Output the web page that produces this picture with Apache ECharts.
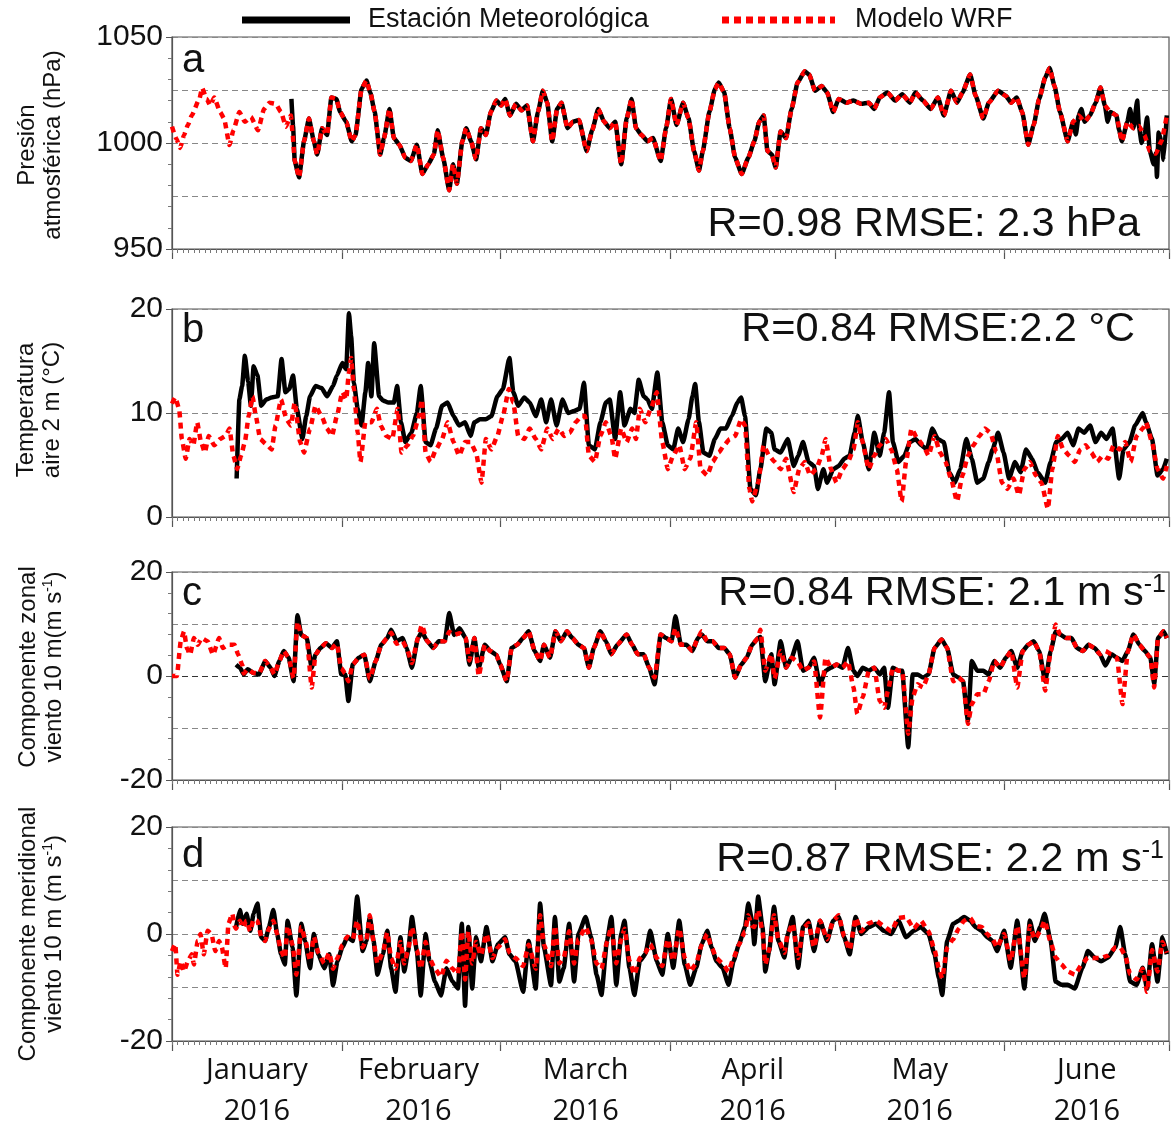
<!DOCTYPE html>
<html><head><meta charset="utf-8">
<script src="https://cdn.jsdelivr.net/npm/echarts@6/dist/echarts.min.js"></script>
<style>html,body{margin:0;padding:0;background:#fff}#c{width:1171px;height:1125px}</style>
</head><body><div id="c"></div>
<script>
// ---------- axis data ----------
const monthTicks = [0, 31, 60, 91, 121, 152, 182];           // day-of-year of month starts (2016)
const monthLabelDays = [15.5, 45, 75.5, 106, 136.5, 167];     // mid-month label positions
const monthLabels = ['January\n2016', 'February\n2016', 'March\n2016', 'April\n2016', 'May\n2016', 'June\n2016'];

// ---------- panel a: pressure (hPa), [day, value] ----------
const pressModelEarly = [[0,1007.7],[0.8,1002],[1.5,997.7],[2.2,1003.8],[2.9,1008.5],[3.6,1013],[5,1020.8],[5.5,1026],[6.3,1020.8],[7,1017.7],[7.7,1021.5],[8.8,1014.6],[9.5,1011.5],[10.5,999],[11.2,1006],[12.3,1014.6],[13.3,1010],[14.4,1012.3],[15.7,1006],[16.8,1016],[17.8,1019],[18.9,1018.5],[19.9,1014.6],[20.8,1007.7],[21.7,1013],[22.0,1005]];
const pressObsStart = [[21.8,1020.8],[22.1,1008]];
const pressCommon = [[22.4,991.5],[23.2,983.8],[24.1,1000.8],[25,1011.5],[25.9,1000.8],[26.5,994.6],[27.4,1007],[28.3,1003.8],[29.1,1021.5],[30,1020.8],[30.7,1014.6],[31.8,1010],[32.8,1000.8],[33.5,1003.8],[34.6,1025.4],[35.5,1029.5],[36.2,1023.8],[37,1014.6],[38,994.6],[38.7,1002.3],[39.7,1016],[40.5,1002.3],[41.5,999.2],[42.6,993],[43.6,991.5],[44.7,999.2],[45.7,985.4],[46.8,990],[47.8,994.6],[48.5,1006],[49.5,993],[50.6,977.7],[51.3,990],[52,980.8],[53,1000.8],[53.7,1007],[54.6,1000.8],[55.5,992.3],[56.4,1007],[57.3,1003.8],[58.2,1014.6],[59.2,1020],[60.1,1017.7],[60.8,1020.8],[61.7,1013],[62.8,1018.5],[63.8,1015.4],[64.8,1017.7],[65.9,1000.8],[66.8,1014.6],[67.7,1024.6],[68.5,1019],[69.4,1000.8],[70.3,1016],[71.1,1019],[72.2,1007],[73.2,1010],[74.3,1010.8],[75.7,996.2],[76.7,1006],[77.8,1016],[78.9,1010],[79.9,1007],[80.9,1010],[82,990],[83,1011.5],[83.9,1020.8],[84.7,1007],[85.7,1003.8],[86.8,1000.8],[87.8,1002.3],[89.2,991.5],[90.2,1007],[91.1,1020.8],[92.1,1008.5],[93.3,1019],[94.3,1011.5],[95.3,996.2],[96.2,987],[96.9,996.2],[98.1,1014.6],[99.1,1025.4],[99.8,1028.5],[100.8,1023.8],[101.8,1007],[102.8,993],[104,985.4],[105.2,993],[106.3,1000.8],[107.2,1010],[108,1013],[108.7,996.2],[109.5,994.6],[110.2,988.5],[111.1,1005.4],[112.1,1002.3],[113.1,1016],[114.2,1028.5],[115.5,1033.8],[116.3,1032.3],[117.4,1024.6],[118.6,1026.9],[119.6,1023.8],[120.7,1014.6],[121.7,1020.8],[123.1,1019],[124.4,1020],[125.8,1018.5],[127.2,1019],[128.2,1016],[129.2,1021.5],[130.6,1023.8],[132,1020],[133.3,1023],[134.7,1019],[135.7,1023.8],[137.1,1020],[138.5,1016],[139.8,1021.5],[140.9,1013],[142.2,1024.6],[143.3,1019],[144.3,1023.8],[145.7,1032.3],[146.7,1022.3],[148.1,1011.5],[149.1,1019],[150.8,1024.6],[152.2,1022.3],[153.2,1019],[154.2,1021.5],[155.2,1014.6],[156.3,999.2],[157.3,1008.5],[158.3,1020.8],[159.4,1030.8],[160.2,1035.4],[161.1,1026.9],[162.1,1014.6],[163.5,1000.8],[164.5,1010],[165.5,1013],[166.6,1010],[167.6,1013],[168.6,1019],[169.5,1026.2],[170.3,1017.7],[171.3,1014.6],[172.4,1013],[173.4,1000.8],[174.4,1010],[175.5,1007],[176.5,1008],[177.5,1003.8],[178.5,996.2],[179.6,995],[180.6,1000.8],[181.6,1013]];
const pressObsNoise = [[165,1004],[166,1016],[170.8,1010],[172.9,1006],[174.9,1016],[176.2,1020],[177,1000],[178,1012],[179.2,990],[179.8,984],[180.1,1005],[181,992]];

// ---------- panel b: temperature (°C) ----------
const tempModel = [[0,10.9],[0.6,11.5],[1.3,10.4],[1.8,7.5],[2.5,5.6],[3.2,7.5],[3.9,6.9],[4.6,9.1],[5.3,7.2],[6,6.2],[6.7,7.8],[7.7,6.9],[8.8,7.5],[9.8,7.8],[10.5,8.5],[11.2,5.9],[11.9,4.6],[12.6,5.9],[13.3,7.2],[14,9.7],[14.7,11.6],[15.3,9.7],[16.1,7.5],[17.2,7],[18.2,6.5],[18.9,8.8],[19.9,11.3],[20.9,9.4],[21.7,8.8],[22.4,11],[23.4,7.2],[24.1,6.2],[25.2,8.5],[26.2,10.7],[27.3,9.7],[28.3,8.5],[29.2,7.8],[30.1,9.7],[31.1,12],[31.8,11.3],[32.3,13.9],[32.7,15.3],[33.2,12.3],[33.9,8.1],[34.4,5.3],[35.3,9.1],[36.4,9.1],[37.4,10.4],[38.1,8.8],[39.1,7.8],[40.2,7.5],[41.2,10.4],[41.9,6.2],[43,6.9],[44,7.8],[45.1,9.7],[45.6,11.3],[46.3,6.2],[47.2,5.3],[48.2,6.5],[49.3,7.5],[50.3,9.1],[51.4,7.2],[52.4,5.9],[53.5,7.2],[54.5,7.2],[55.5,6.2],[56.5,3.3],[57.3,7.5],[58.3,6.5],[59.4,7.8],[60.4,9.7],[61.5,12.3],[62.3,11],[63.2,7.8],[64.3,7.5],[65.3,8.5],[66.4,7.5],[67.4,6.5],[68.5,8.5],[69.5,7.5],[70.6,8.5],[71.6,7.8],[72.6,8.1],[73.7,9.1],[74.7,9.7],[75.4,9.7],[76.1,5.9],[77.2,5.3],[78.2,7.8],[79.2,9.1],[80.2,7.8],[80.9,5.6],[82,8.5],[83,7.2],[84,8.5],[84.7,7.5],[85.4,10.4],[86.4,9.1],[87.4,10.4],[88.5,12],[89.5,7.2],[90.5,4.6],[91.5,5.9],[92.6,6.9],[93.6,4.6],[94.6,5.6],[95.7,9.1],[96.5,4.6],[97.7,4],[98.7,5.3],[99.8,6.2],[100.8,6.9],[101.8,7.5],[102.8,7.8],[103.9,9.4],[104.6,8.8],[105.4,2.7],[105.9,1.5],[107,3.3],[108,6.9],[109,5.9],[110,5.3],[111.1,4.6],[112.1,5.6],[113.5,2.4],[114.5,4.6],[115.5,5.3],[116.5,4],[117.6,4.6],[118.6,5.9],[119.3,7.5],[120.3,4.6],[121.3,3.3],[122.4,4.6],[123.4,5.3],[124.4,6.5],[125.2,9.1],[125.9,7.5],[127.2,4.6],[128.2,5.9],[129.2,6.9],[130.3,7.5],[131.3,6.5],[132.3,4.6],[133.2,1.5],[134,5.3],[135,8.5],[136.1,7.5],[137.1,6.9],[138.1,5.9],[139.2,7.8],[140.2,6.2],[141.2,5.3],[142.2,3.7],[143.3,1.5],[144.3,4],[145.3,5.9],[146.3,6.9],[147.4,7.8],[148.4,8.5],[149.4,8.1],[150.5,6.2],[151.5,3.3],[152.5,2.7],[153.6,3.7],[154.6,2.1],[155.6,4.6],[156.6,5.3],[157.7,4],[158.7,3.3],[159.9,0.8],[160.7,4.6],[161.7,7.8],[162.7,6.5],[163.8,5.9],[164.8,5.3],[165.8,6.5],[166.8,6.9],[167.8,6.2],[168.9,5.3],[169.9,5.9],[170.9,5.6],[171.9,6.9],[173,6.5],[174,7.2],[175,5.3],[176.1,7.8],[177.2,8.5],[177.8,9.1],[178.9,7.2],[179.9,4.6],[180.9,3.7],[181.6,4.9]];
const tempObs = [[11.8,3.7],[12.3,11.3],[12.8,12.6],[13.3,15.5],[13.9,13],[14.4,10.7],[14.9,14.5],[15.6,13.6],[16.3,10.7],[17.2,11.3],[18.2,11.5],[19.3,11.6],[20,15.2],[20.7,12],[21.4,12.3],[22.1,13.6],[22.8,10.4],[23.8,7.5],[24.5,9.7],[25.2,11.6],[26.2,12.6],[27.3,12.4],[28.3,11.6],[29.4,12.6],[30.1,13.6],[31.1,14.8],[31.8,14.2],[32.3,19.6],[32.7,17.4],[33.2,12.9],[33.9,10.4],[34.6,8.8],[35.3,12],[35.8,14.8],[36.4,11.6],[36.9,16.7],[37.8,11.6],[38.5,11.2],[39.5,11],[40.5,11],[41.1,12.6],[41.8,9.1],[42.6,7.2],[43.7,8.1],[44.7,10],[45.4,12.6],[46.3,7.2],[47.2,6.9],[48.2,8.5],[49.3,10.7],[50.3,11],[51.4,9.7],[52.4,8.8],[53.5,9.1],[54.5,7.8],[55.2,9.1],[56.2,9.4],[57.3,9.4],[58.3,9.7],[59.4,11.6],[60.4,12.3],[61.6,15.3],[62.3,12],[63.2,10.7],[64.3,11.5],[65.3,11],[66.4,9.7],[67.4,11.3],[68.3,9.1],[69.2,11.3],[70.2,8.8],[71.3,11.3],[72.3,10],[73.4,10.2],[74.4,10.4],[75.2,12.9],[76.1,6.9],[77.2,6.5],[78.2,9.1],[79.2,11],[79.9,11.3],[80.9,7.5],[81.8,12],[82.6,8.8],[83.7,10.4],[84.4,10],[85.2,13.2],[86.1,11.6],[86.8,11.3],[87.6,10.4],[88.6,13.9],[89.5,9.1],[90.5,6.9],[91.5,6.5],[92.4,8.5],[93.3,7.2],[94.3,9.4],[95,11.6],[95.5,12.8],[96.2,9.1],[97,6.2],[98.1,5.9],[99.1,7.5],[100.1,8.5],[101.1,8.5],[102.2,9.7],[103.2,11],[103.9,11.5],[104.6,9.7],[105.6,2.7],[106.6,2.1],[107.4,4.6],[108.5,8.5],[109.4,8.1],[110,6.5],[111.1,6.2],[112.4,7.5],[113.5,4.9],[114.3,5.9],[115.2,7.2],[116.2,5.3],[117.2,4.9],[117.9,2.7],[118.9,4.6],[119.6,3.3],[120.7,4.6],[121.7,4.9],[122.7,5.6],[123.7,5.9],[124.6,8.1],[125.2,9.7],[126.1,7.2],[127.2,4.6],[128.2,8.1],[129.2,5.9],[130,8.1],[130.9,12],[131.6,7.2],[132.6,5.3],[133.7,5.9],[134.7,7.2],[135.7,7.5],[136.8,6.9],[137.8,6.5],[138.8,8.5],[139.8,7.5],[140.9,7.2],[141.9,4.3],[142.9,3.3],[143.9,4.6],[145,7.5],[146,5.6],[147,3.3],[148.1,3.7],[149.1,5.3],[149.8,6.5],[150.8,8.1],[151.8,6.2],[152.8,3.7],[153.9,5.3],[154.9,4.3],[155.9,6.5],[157,5.6],[158,4.3],[159.4,3.3],[160.4,5.3],[161.4,7.2],[162.4,7.5],[163.5,8.1],[164.5,6.9],[165.5,8.5],[166.5,8.1],[167.6,8.8],[168.6,7.2],[169.6,8.1],[170.6,7.5],[171.7,8.5],[172.9,3.7],[173.7,6.5],[174.8,7.2],[175.8,8.8],[177.2,10],[177.8,9.1],[178.9,7.5],[179.9,4],[180.9,4.6],[181.6,5.6]];

// ---------- panel c: zonal wind (m/s) ----------
const windUModel = [[0,0],[0.9,0],[1.6,6.7],[2.2,8.6],[2.7,5.4],[3.3,4.1],[4,7.3],[4.7,6],[5.4,7.3],[6.5,6.7],[7.5,4.1],[8.6,7.3],[9.3,5.4],[10.3,6],[11.4,6],[12.1,4.1],[12.8,2.2],[13.1,0.5],[13.8,1.3],[14.9,0.6],[15.9,0.5],[17,2.9],[18,1.6],[18.7,0.3],[19.6,2.9],[20.4,4.8],[21.3,3.5],[22.2,-0.4],[22.9,10.4],[23.6,7.9],[24.6,7.3],[25.5,-2.2],[26.2,4.1],[27.1,5.4],[28.1,6.3],[29.2,5.4],[30.1,6.2],[30.9,1.5],[31.6,0.5],[32.2,-1],[33,2.2],[34.1,3.5],[35.1,4.1],[36.1,-0.5],[37.2,2.9],[38.2,6],[39.3,7.3],[40,8.3],[41,6.2],[42.1,6.7],[42.8,5.4],[43.8,2.5],[44.9,7.3],[45.6,9.8],[46.6,6.7],[47.7,5.4],[48.7,6.7],[49.8,6.7],[50.6,8.5],[51.5,7.9],[52.5,8.2],[53.6,7.3],[54.3,3],[55.2,7.3],[56,0],[57.1,6],[58.1,4.8],[59.2,4.1],[59.9,2.2],[61.1,-1],[62,5.4],[63,6],[64.1,7.3],[65.1,8.6],[66.2,4.8],[67.2,2.9],[67.9,6],[69,3.5],[70,8.6],[71,6.7],[72.1,8.6],[73.1,7.3],[74.2,6],[75.2,5.4],[76.1,1.6],[77,5.4],[78.2,8.6],[79.2,6.7],[80.2,4.2],[81.3,6],[83,8],[84,6],[85,4.2],[86.1,4.2],[87.1,1.6],[88.1,-0.3],[89.2,8],[90.2,7.3],[91.2,6.7],[91.9,9.2],[92.9,6],[93.9,6],[95,4.8],[96,7.3],[96.7,8.6],[97.7,6.7],[98.7,6.7],[99.8,5.4],[100.8,5.4],[101.8,4.2],[102.8,-0.3],[103.9,2.2],[104.9,3.5],[105.9,6],[107,7.3],[107.4,8.9],[108.3,1],[109.4,4.2],[110,-0.5],[111.1,4.8],[112.1,1.6],[113.1,3.5],[114.2,2.8],[115.2,1],[116.2,1.6],[117.2,2.8],[118.3,-8],[119.3,3.5],[120.3,1.6],[121.3,2.2],[122.4,1.6],[123.4,2.8],[124.4,-2.2],[125.1,-7.3],[126.1,-4.1],[127.2,1],[128.2,1.6],[129.2,-4.8],[130,-6.1],[130.7,-2.8],[131.6,1.6],[132.6,1],[133.3,1],[134.4,-11.1],[135.2,-4.1],[136.1,-1.6],[137.1,-2.2],[138.1,0.3],[139.2,5.4],[140.5,7],[141.5,5.4],[142.6,-1],[143.6,-0.3],[144.4,-1],[145.3,-9.2],[146,-5.4],[147,-3.5],[148.1,-3.5],[149.1,-1],[150.1,2.9],[151.2,1.6],[152.2,3.5],[153.2,4.8],[154.3,-2.2],[155.3,4.8],[156.3,6],[157.3,6.7],[158.3,4.8],[159.4,-2.8],[160.4,4.8],[161.3,9.9],[162.1,8],[163.2,7.3],[164.2,7.3],[165.2,5.4],[166.3,4.8],[167.3,6],[168.4,5.4],[169.4,4.2],[170.4,4.8],[171.5,4.2],[172.5,3.5],[173.5,-5.4],[174.5,4.8],[175.5,8],[176.6,6],[177.6,4.8],[178.6,3.5],[179.3,-2.2],[180,7.3],[181,8.6],[181.6,7.3]];
const windUObs = [[11.7,2.2],[12.4,1.6],[13.1,0.3],[13.8,1.3],[14.9,0.6],[15.9,0.3],[17,2.9],[18,1.6],[18.7,0],[19.6,2.9],[20.4,4.8],[21.3,3.5],[22.2,-1],[22.9,11.7],[23.6,7.9],[24.6,7.3],[25.5,1.6],[26.2,4.1],[27.1,5.4],[28.1,6.3],[29.2,5.4],[30.1,6.7],[30.9,0.3],[31.6,0.3],[32.2,-4.8],[33,2.2],[34.1,3.5],[35.1,4.1],[36.1,-1],[37.2,2.9],[38.2,6],[39.3,7.3],[40,8.9],[41,6.7],[42.1,7.3],[42.8,5.4],[43.8,1.6],[44.9,7.3],[45.6,8.5],[46.6,6.7],[47.7,5.4],[48.7,6.7],[49.8,6.7],[50.6,12.1],[51.5,7.9],[52.5,9.2],[53.6,7.3],[54.3,2.2],[55.2,7.3],[56,1.6],[57.1,6],[58.1,4.8],[59.2,4.1],[59.9,2.2],[61.1,-1],[62,5.4],[63,6],[64.1,7.3],[65.1,8.6],[66.2,4.8],[67.2,2.9],[67.9,6],[69,3.5],[70,8.6],[71,6.7],[72.1,8.6],[73.1,7.3],[74.2,6],[75.2,5.4],[76.1,1.6],[77,5.4],[78.2,8.6],[79.2,6.7],[80.2,4.2],[81.3,6],[83,8],[84,6],[85,4.2],[86.1,4.2],[87.1,1.6],[88.1,-1.6],[89.2,8],[90.2,7.3],[91.2,6.7],[91.9,11.5],[92.9,6],[93.9,6],[95,4.8],[96,7.3],[96.7,8],[97.7,6.7],[98.7,6.7],[99.8,5.4],[100.8,5.4],[101.8,4.2],[102.8,-0.3],[103.9,2.2],[104.9,3.5],[105.9,6],[107,7.3],[107.4,7.5],[108.3,-1],[109.4,4.2],[110,-1.6],[111.1,6.7],[112.1,1.6],[113.1,3.5],[114.2,6.7],[115.2,1],[116.2,1.6],[117.2,3.5],[118.3,-1.6],[119.3,1],[120.3,1.6],[121.3,2.2],[122.4,1.6],[123.4,5.4],[124.4,1],[125.1,0],[126.1,1.6],[127.2,1],[128.2,1.6],[129.2,0.3],[130,1.6],[130.7,-6.1],[131.6,1.6],[132.6,1],[133.3,1],[134.4,-13.7],[135.2,0.3],[136.1,0.3],[137.1,-0.3],[138.1,0.3],[139.2,5.4],[140.5,7],[141.5,5.4],[142.6,0.3],[143.6,-0.3],[144.4,-1],[145.3,-8.6],[146,2.9],[147,1],[148.1,1],[149.1,0.3],[150.1,2.9],[151.2,1.6],[152.2,3.5],[153.2,4.8],[154.3,1.6],[155.3,4.8],[156.3,6],[157.3,6.7],[158.3,4.8],[159.4,-1],[160.4,4.8],[161.3,8.5],[162.1,8],[163.2,7.3],[164.2,7.3],[165.2,5.4],[166.3,4.8],[167.3,6],[168.4,5.4],[169.4,4.2],[170.4,2],[171.5,4.2],[172.5,3.5],[173.5,2.9],[174.5,4.8],[175.5,8],[176.6,6],[177.6,4.8],[178.6,3.5],[179.3,-1.5],[180,7.3],[181,8.6],[181.6,7.3]];

// ---------- panel d: meridional wind (m/s) ----------
const windVModel = [[0,-3.2],[0.6,-1.9],[1,-7.6],[1.6,-5.1],[2.2,-7],[2.9,-5.1],[3.6,-3.8],[4,-5.7],[4.7,-1.3],[5.2,0],[5.8,-3.8],[6.5,0.6],[7.2,0],[7.9,-3.2],[8.6,-1.3],[9.1,-2.5],[9.8,-6.4],[10.3,1.9],[11,3.8],[11.5,1.3],[11.7,1],[12.4,2.5],[12.9,1.2],[13.6,2.5],[14.3,0.5],[14.9,2.8],[15.6,2.5],[16.3,-0.5],[17,-1.3],[17.7,1],[18.5,2.5],[19.2,0],[19.9,-3.2],[20.6,-4.5],[21.1,1.5],[22,-2],[22.7,-7.6],[23.6,1.3],[24.3,-1],[25.2,-5],[25.9,-0.5],[26.7,-3.5],[27.8,-5.5],[28.7,-3.5],[29.4,-6.5],[30.2,-4.5],[31.1,-2],[32,-0.5],[33,-1],[33.8,2.5],[34.8,-2.5],[35.5,-1],[36.1,3.5],[36.8,-1.5],[37.5,-5.5],[38.5,-3.5],[39.3,0.3],[40,-4.5],[40.8,-6.5],[41.7,-1.5],[42.4,-5.5],[43.1,-3],[43.8,1.3],[44.7,-3],[45.4,-6.5],[46.3,-1.5],[47,-4.5],[48,-6.5],[49.1,-8],[50.1,-5],[51.2,-6.5],[52.2,-7.5],[52.9,0.5],[53.5,-8.5],[54.1,0.5],[54.8,-5.5],[55.5,-1.5],[56.4,-4],[57.4,0],[58.5,-4.5],[59.5,-2.5],[60.8,-1],[61.6,-3.5],[62.7,-4.5],[64.1,-6],[65.1,-2],[66.4,-6.5],[67.2,3.5],[67.9,-2],[69.2,-6],[69.9,1.5],[70.7,-5.5],[71.5,-4.5],[72.5,0.5],[73.4,-5.5],[74.2,-1],[75.5,1.3],[76.5,-1],[77.5,-5.5],[78.4,-6.5],[79.4,-1.5],[80.2,1.3],[81.1,-5.5],[82,-1],[82.6,1],[83.5,-5],[84.4,-7.6],[85.4,-4.5],[86.4,-3.5],[87.3,-1.9],[88.5,-4.5],[89.5,-6],[90.5,-1],[91.5,-5],[92.6,1],[93.6,-4.5],[94.6,-7],[95.7,-5.5],[96.7,-2],[97.7,0],[98.5,-2.5],[99.4,-4.5],[100.5,-5.5],[101.6,-7],[102.5,-4.5],[103.5,-2],[104.6,0.5],[105.2,3.5],[105.9,1.5],[106.3,1.3],[107,4.5],[107.8,0.5],[108.3,-5.7],[109,-3],[109.9,3.5],[110.7,-1],[111.8,-3.5],[112.4,0],[113.3,2],[114.3,-4.5],[115.2,1],[116.2,2],[117.2,-2.5],[118.3,2.5],[119.6,-1],[120.7,2.5],[121.7,3.5],[122.7,-0.5],[123.7,-3],[124.8,3],[125.8,0.5],[127.2,2],[128.5,2.5],[129.9,1.5],[131.3,0.5],[132.6,3],[134,3.2],[135.4,1],[136.7,2.5],[138.1,0.5],[139.2,-3],[140,-6.5],[140.6,-8.3],[141.5,-2.5],[142.6,-1],[143.6,1],[144.6,2.5],[145.7,3],[146.7,1.5],[147.8,1.3],[148.8,0],[149.8,-1],[150.6,-2.5],[151.9,0],[153.1,-5],[154.3,1.5],[155.6,-8.3],[156.6,1.5],[157.5,-1],[158.5,0.5],[159.3,2.5],[160.4,-1.5],[161.3,-4.4],[162.4,-5.7],[163.5,-7],[164.8,-7.6],[166.2,-5.5],[167.2,-4.4],[168.4,-4.5],[169.6,-4.5],[170.9,-4],[172.2,-2.5],[173.1,-2.5],[174,-4],[174.9,-7.5],[176.1,-8.5],[177.2,-6.5],[178,-10.8],[178.9,-3],[179.9,-7],[180.8,-1.5],[181.6,-3.5]];
const windVObs = [[11.7,1.3],[12.4,4.5],[12.9,1.9],[13.6,3.8],[14.3,0.6],[14.9,3.8],[15.6,5.7],[16.3,-0.6],[17,-1.3],[17.7,1.3],[18.5,4.5],[19.2,0],[19.9,-3.8],[20.6,-5.7],[21.1,2.5],[22,-2.5],[22.7,-11.5],[23.6,1.9],[24.3,-1.3],[25.2,-6.4],[25.9,0],[26.7,-3.8],[27.8,-6.4],[28.7,-3.8],[29.4,-9.6],[30.2,-5.1],[31.1,-2.5],[32,-0.6],[33,-1.3],[33.8,7],[34.8,-3.2],[35.5,-1.3],[36.1,3.2],[36.8,-1.3],[37.5,-7.6],[38.5,-3.8],[39.3,0.6],[40,-6.4],[40.8,-10.8],[41.7,-0.6],[42.4,-7],[43.1,-3.2],[43.8,3.2],[44.7,-3.2],[45.4,-11.5],[46.3,0],[47,-5.1],[48,-8.9],[49.1,-11.5],[50.1,-6.4],[51.2,-8.9],[52.2,-10.2],[52.9,1.9],[53.5,-13.4],[54.1,1.3],[54.8,-10.2],[55.5,-0.6],[56.4,-5.1],[57.4,1.3],[58.5,-5.1],[59.5,-1.9],[60.8,-0.6],[61.6,-3.8],[62.7,-5.1],[64.1,-10.8],[65.1,-1.3],[66.4,-10.2],[67.2,5.7],[67.9,-2.5],[69.2,-9.6],[69.9,3.2],[70.7,-8.9],[71.5,-6.4],[72.5,1.9],[73.4,-8.9],[74.2,0],[75.5,3.2],[76.5,-0.6],[77.5,-7.6],[78.4,-11.4],[79.4,-1.3],[80.2,3.2],[81.1,-9.5],[82,0],[82.6,2.5],[83.5,-6.3],[84.4,-11.4],[85.4,-5.1],[86.4,-3.8],[87.3,0.6],[88.5,-5.1],[89.5,-7.6],[90.5,0],[91.5,-6.3],[92.6,2.5],[93.6,-5.7],[94.6,-9.5],[95.7,-6.3],[96.7,-1.9],[97.7,0.6],[98.5,-2.5],[99.4,-5.1],[100.5,-6.3],[101.6,-9.5],[102.5,-5.1],[103.5,-1.9],[104.6,1.3],[105.2,5.7],[105.9,2.5],[106.3,-1.9],[107,7],[107.8,1.3],[108.3,-7],[109,-3.2],[109.9,5.1],[110.7,-1.3],[111.8,-4.4],[112.4,0],[113.3,3.2],[114.3,-6.3],[115.2,1.3],[116.2,2.5],[117.2,-3.2],[118.3,2.5],[119.6,-1.3],[120.7,2.5],[121.7,3.2],[122.7,-0.6],[123.7,-3.8],[124.8,3.2],[125.8,0],[127.2,1.3],[128.5,1.9],[129.9,0.6],[131.3,0],[132.6,2.5],[134,-0.6],[135.4,0.6],[136.7,1.3],[138.1,0],[139.2,-3.8],[140,-8.3],[140.6,-11.4],[141.5,-1.3],[142.6,1.9],[143.6,2.5],[144.6,3.2],[145.7,2.5],[146.7,1.3],[147.8,0.6],[148.8,-0.6],[149.8,-1.3],[150.6,-3.2],[151.9,0.6],[153.1,-6.3],[154.3,2.5],[155.6,-10.2],[156.6,2.5],[157.5,-1.3],[158.5,1.3],[159.3,3.8],[160.4,-1.3],[161.3,-8.9],[162.4,-9.5],[163.5,-9.5],[164.8,-10.2],[166.2,-6.3],[167.2,-3.2],[168.4,-4.4],[169.6,-5.1],[170.9,-4.4],[172.2,-2.5],[173.1,1.3],[174,-3.8],[174.9,-8.9],[176.1,-9.5],[177.2,-6.3],[178,-10.2],[178.9,-1.9],[179.9,-8.9],[180.8,-0.6],[181.6,-3.8]];

// ---------- build ----------
const bySort = (p, q) => p[0] - q[0];
const pressObs = pressObsStart.concat(pressCommon, pressObsNoise).sort(bySort);
const pressModel = pressModelEarly.concat(pressCommon);

const ARIAL = 'Liberation Sans, Arial, sans-serif';
const FRAME = '#555';
const grids = [
  {top: 37, height: 212},
  {top: 309, height: 208},
  {top: 572, height: 208},
  {top: 827, height: 214}
];
const yCfg = [
  {min: 950, max: 1050, interval: 50, minor: 5, grid: 25},
  {min: 0, max: 20, interval: 10, minor: 0, grid: 10},
  {min: -20, max: 20, interval: 20, minor: 5, grid: 10},
  {min: -20, max: 20, interval: 20, minor: 5, grid: 10}
];
const panels = [[pressObs, pressModel], [tempObs, tempModel], [windUObs, windUModel], [windVObs, windVModel]];

const option = {
  animation: false,
  backgroundColor: '#fff',
  grid: grids.map(g => ({left: 172, right: 2, top: g.top, height: g.height, outerBoundsMode: 'none', containLabel: false, show: true, borderColor: FRAME, borderWidth: 1.2, backgroundColor: 'transparent'})),
  xAxis: [], yAxis: [], series: [], graphic: []
};

grids.forEach((g, i) => {
  // main x axis (month ticks + labels)
  option.xAxis.push({
    type: 'value', gridIndex: i, min: 0, max: 182, position: 'bottom',
    axisLine: {show: true, onZero: false, lineStyle: {color: FRAME, width: 1.2}},
    axisTick: {show: true, customValues: monthTicks, length: 10, inside: false, lineStyle: {color: FRAME, width: 1.2}},
    axisLabel: i === 3 ? {
      show: true, customValues: monthLabelDays, margin: 9,
      fontFamily: 'Open Sans, Noto Sans, sans-serif', fontSize: 29, color: '#111', lineHeight: 41,
      formatter: v => { let k = 0, best = 1e9; monthLabelDays.forEach((m, j) => { if (Math.abs(m - v) < best) { best = Math.abs(m - v); k = j; } }); return monthLabels[k]; }
    } : {show: false},
    splitLine: {show: false}
  });
  // daily minor ticks
  option.xAxis.push({
    type: 'value', gridIndex: i, min: 0, max: 182, interval: 1, position: 'bottom',
    axisLine: {show: false, onZero: false},
    axisTick: {show: true, length: 4, lineStyle: {color: '#777', width: 1}},
    axisLabel: {show: false}, splitLine: {show: false}
  });
  const c = yCfg[i];
  option.yAxis.push({
    type: 'value', gridIndex: i, min: c.min, max: c.max, interval: c.interval, position: 'left',
    axisLine: {show: true, onZero: false, lineStyle: {color: FRAME, width: 1.2}},
    axisTick: {show: true, length: 6, lineStyle: {color: FRAME}},
    minorTick: {show: c.minor > 0, splitNumber: c.minor || 5, length: 4, lineStyle: {color: '#777'}},
    axisLabel: {fontFamily: ARIAL, fontSize: 30, color: '#111', margin: 9, formatter: v => String(v)},
    splitLine: {show: false}
  });
  option.yAxis.push({
    type: 'value', gridIndex: i, min: c.min, max: c.max, interval: c.grid, position: 'left',
    axisLine: {show: false}, axisTick: {show: false}, axisLabel: {show: false},
    splitLine: {show: true, lineStyle: {color: '#888', type: [6, 4], width: 1}}
  });
  const [obs, mod] = panels[i];
  option.series.push({
    type: 'line', xAxisIndex: 2 * i, yAxisIndex: 2 * i, data: obs, showSymbol: false, smooth: 0.15, smoothMonotone: 'x',
    lineStyle: {color: '#000', width: 4.5}, z: 2, silent: true
  });
  option.series.push({
    type: 'line', xAxisIndex: 2 * i, yAxisIndex: 2 * i, data: mod, showSymbol: false, smooth: 0.15, smoothMonotone: 'x',
    lineStyle: {color: '#ff0000', width: 4.5, type: [6, 5], cap: 'butt'}, z: 3, silent: true
  });
});

// darker zero line in panel c
option.series[5].markLine = {silent: true, symbol: 'none', label: {show: false}, data: [{yAxis: 0}], lineStyle: {color: '#333', type: [6, 4], width: 1}, z: 1};

// legend
option.graphic.push(
  {type: 'line', shape: {x1: 242, y1: 20, x2: 350, y2: 20}, style: {stroke: '#000', lineWidth: 7}},
  {type: 'text', x: 368, y: 20, style: {text: 'Estación Meteorológica', font: '27px ' + ARIAL, fill: '#111', textAlign: 'left', textVerticalAlign: 'middle'}},
  {type: 'line', shape: {x1: 722, y1: 20, x2: 835, y2: 20}, style: {stroke: '#ff0000', lineWidth: 7, lineDash: [7, 5]}},
  {type: 'text', x: 855, y: 20, style: {text: 'Modelo WRF', font: '27px ' + ARIAL, fill: '#111', textAlign: 'left', textVerticalAlign: 'middle'}}
);
// panel letters
[['a', 61], ['b', 331], ['c', 594], ['d', 856]].forEach(([t, y]) => option.graphic.push(
  {type: 'text', x: 182, y: y, style: {text: t, font: '40px ' + ARIAL, fill: '#111', textAlign: 'left', textVerticalAlign: 'middle'}}
));
// statistics
const sup = {sup: {fontSize: 25, verticalAlign: 'top', fontFamily: ARIAL, fill: '#111'}};
[['R=0.98 RMSE: 2.3 hPa', 1140, 225], ['R=0.84 RMSE:2.2 °C', 1135, 330], ['R=0.84 RMSE: 2.1 m s{sup|-1}', 1166, 594], ['R=0.87 RMSE: 2.2 m s{sup|-1}', 1164, 860]].forEach(([t, x, y]) => option.graphic.push(
  {type: 'text', x: x, y: y, z: 10, style: {text: t, rich: sup, font: '41.5px ' + ARIAL, fill: '#111', textAlign: 'right', textVerticalAlign: 'middle'}}
));
// y axis names
const supS = {sup: {fontSize: 14, verticalAlign: 'top', fontFamily: ARIAL, fill: '#111'}};
[['Presión\natmosférica (hPa)', 40, 145], ['Temperatura\naire 2 m (°C)', 39, 410], ['Componente zonal\nviento 10 m(m s{sup|-1})', 41, 667], ['Componente meridional\nviento 10 m (m s{sup|-1})', 41, 934]].forEach(([t, x, y]) => option.graphic.push(
  {type: 'text', x: x, y: y, rotation: Math.PI / 2, style: {text: t, rich: supS, font: '24px ' + ARIAL, lineHeight: 26, fill: '#111', textAlign: 'center', textVerticalAlign: 'middle'}}
));

const chart = echarts.init(document.getElementById('c'), null, {renderer: 'canvas'});
chart.setOption(option);
</script></body></html>
